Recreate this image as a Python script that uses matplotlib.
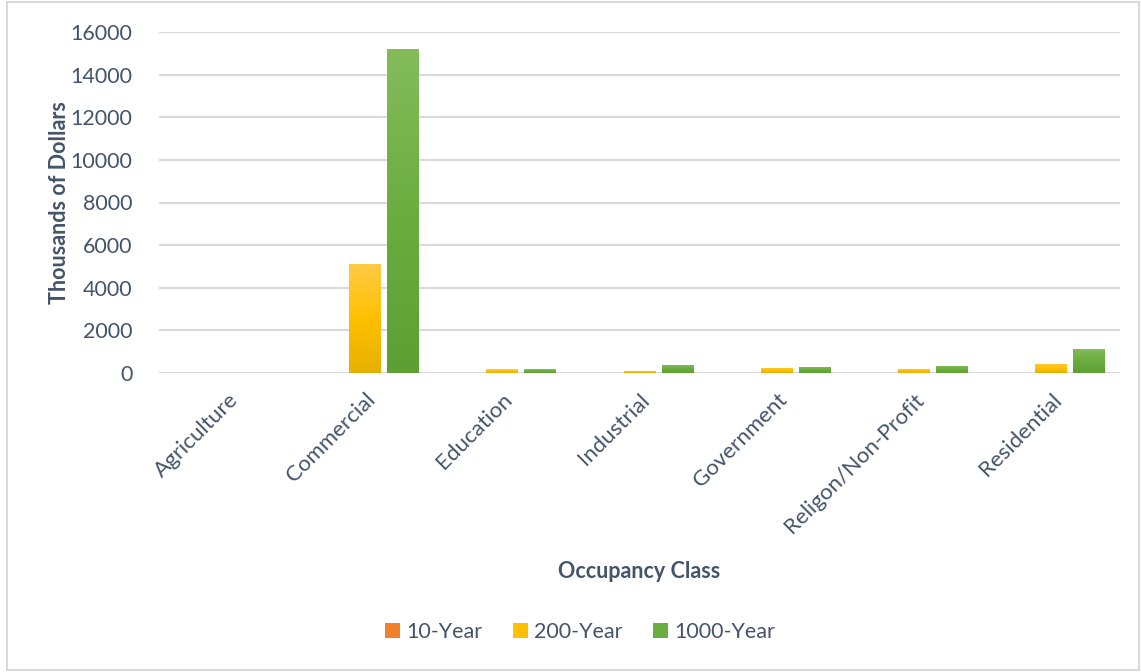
import numpy as np
import matplotlib.pyplot as plt
from matplotlib.colors import LinearSegmentedColormap
from matplotlib.patches import Rectangle

plt.rcParams['font.family'] = ['Lato', 'DejaVu Sans']

# losses by occupancy class, thousands of dollars
classes = ['Agriculture', 'Commercial', 'Education', 'Industrial',
           'Government', 'Religon/Non-Profit', 'Residential']
yr10 = [5, 20, 15, 15, 15, 20, 10]
yr200 = [10, 5100, 170, 100, 250, 200, 430]
yr1000 = [20, 15200, 170, 380, 300, 330, 1130]
series_names = ['10-Year', '200-Year', '1000-Year']

txt = '#44546A'
grid_c = '#D9D9D9'

# gradient colours top -> middle -> bottom
grads = [
    ['#F8A56A', '#F07F2E', '#E06C1C'],
    ['#FFCB45', '#FFC000', '#E6B000'],
    ['#84BC5C', '#6CAD40', '#5E9F34'],
]

fig = plt.figure(figsize=(11.41, 6.72), dpi=100)
fig.patch.set_facecolor('white')
fig.add_artist(Rectangle((0.006, 0.003), 0.992, 0.994, transform=fig.transFigure,
                         fill=False, edgecolor=grid_c, lw=1.5))

ax = fig.add_axes([159/1141, 1-373/672, (1120-159)/1141, (373-32)/672])
x = np.arange(len(classes))
w = 0.233
step = 0.277
grad = np.linspace(0, 1, 256).reshape(-1, 1)

for i, vals in enumerate([yr10, yr200, yr1000]):
    cmap = LinearSegmentedColormap.from_list('g%d' % i, grads[i][::-1])
    for j, v in enumerate(vals):
        xl = x[j] + (i-1)*step - w/2
        bar = ax.bar(xl, v, width=w, align='edge', color=grads[i][1], zorder=3)[0]
        im = ax.imshow(grad, cmap=cmap, origin='lower', aspect='auto',
                       extent=[xl, xl+w, 0, v], zorder=3)
        im.set_clip_path(bar)
    ax.bar(0, 0, color=grads[i][1], label=series_names[i])

ax.set_xlim(-0.5, len(classes)-0.5)
ax.set_ylim(0, 16000)
ax.set_yticks(np.arange(0, 16001, 2000))
ax.yaxis.grid(True, color=grid_c, lw=1.5, zorder=0)
ax.set_axisbelow(True)
for s in ax.spines.values():
    s.set_visible(False)
ax.tick_params(length=0, labelsize=15.5, labelcolor=txt)
ax.tick_params(axis='y', pad=19)
ax.set_xticks(x)
ax.set_xticklabels(classes, rotation=45, ha='right', va='top',
                   rotation_mode='anchor', fontsize=16)
ax.tick_params(axis='x', pad=12)

ax.set_ylabel('Thousands of Dollars', fontsize=15.5, fontweight='bold', color=txt)
ax.yaxis.set_label_coords(-0.093, 0.5)
ax.set_xlabel('Occupancy Class', fontsize=15.5, fontweight='bold', color=txt)
ax.xaxis.set_label_coords(0.5, -0.55)

h, l = ax.get_legend_handles_labels()
fig.legend(h, l, loc='center', bbox_to_anchor=(580/1141, 1-632/672), ncol=3,
           frameon=False, fontsize=15.5, labelcolor=txt, handlelength=0.7,
           handleheight=0.7, handletextpad=0.3, columnspacing=1.4)

fig.savefig('out.png', dpi=100)
